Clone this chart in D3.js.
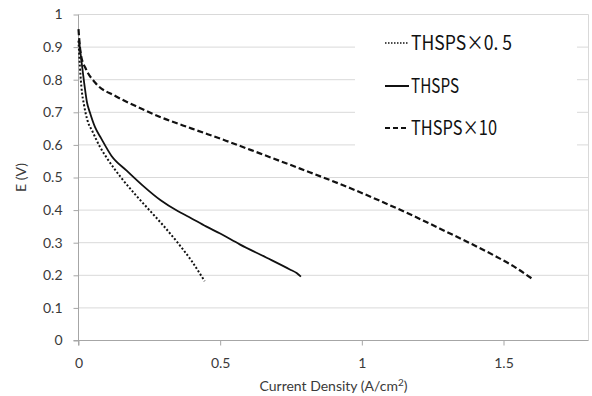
<!DOCTYPE html>
<html>
<head>
<meta charset="utf-8">
<script src="https://cdn.jsdelivr.net/npm/d3@7"></script>
<style>
  body { margin: 0; background: #fff; }
  .tick text { font-family: Lato, "Liberation Sans", sans-serif; font-size: 14px; fill: #3a3a3a; }
  .axisLabels { font-family: Lato, "Liberation Sans", sans-serif; font-size: 14px; fill: #3a3a3a; }
  .legendText { font-family: "Noto Sans CJK JP", sans-serif; font-size: 20px; fill: #111; }
</style>
</head>
<body>
<div id="chart"></div>
<script>

// series values: [current density, E]
var halfX = [0, 0.005, 0.01, 0.02, 0.03, 0.05, 0.075, 0.1, 0.15, 0.2, 0.25, 0.3, 0.35, 0.4, 0.445];
var halfY = [0.92, 0.84, 0.78, 0.72, 0.68, 0.64, 0.595, 0.56, 0.5, 0.448, 0.4, 0.352, 0.3, 0.243, 0.182];

var baseX = [0.002, 0.01, 0.02, 0.03, 0.04, 0.058, 0.08, 0.116, 0.17, 0.227, 0.29, 0.35, 0.39, 0.45, 0.5, 0.569, 0.664, 0.746, 0.77, 0.785];
var baseY = [0.92, 0.86, 0.79, 0.73, 0.70, 0.655, 0.62, 0.567, 0.521, 0.475, 0.43, 0.397, 0.379, 0.35, 0.328, 0.295, 0.254, 0.218, 0.207, 0.196];

var tenX = [0, 0.005, 0.01, 0.025, 0.06, 0.13, 0.2, 0.29, 0.4, 0.52, 0.64, 0.78, 0.96, 1.06, 1.18, 1.3, 1.39, 1.475, 1.535, 1.6];
var tenY = [0.955, 0.9, 0.87, 0.835, 0.79, 0.75, 0.72, 0.685, 0.65, 0.613, 0.574, 0.528, 0.467, 0.43, 0.383, 0.333, 0.295, 0.257, 0.228, 0.19];

var seriesNames = ["THSPS\u00d70. 5", "THSPS", "THSPS\u00d710"];
var xTicks = [0, 0.5, 1, 1.5];
var yTicks = [0, 0.1, 0.2, 0.3, 0.4, 0.5, 0.6, 0.7, 0.8, 0.9, 1];

var w = 592;
var h = 396;

var xScale = d3.scaleLinear()
			.domain([0, 1.8])
			.range([78.5, 588.5]);

var yScale = d3.scaleLinear()
			.domain([0, 1])
			.range([340.5, 14.5]);

var svg = d3.select("#chart")
			.append("svg")
			.attr("width", w)
			.attr("height", h);

// gridlines
svg.append("g")
	.selectAll("line")
	.data(yTicks.slice(1))
	.enter()
	.append("line")
		.attr("x1", xScale(0))
		.attr("x2", xScale(1.8))
		.attr("y1", function(d) { return yScale(d); })
		.attr("y2", function(d) { return yScale(d); })
		.style("stroke", "#d9d9d9")
		.style("stroke-width", 1);

// right border of plot area
svg.append("line")
	.attr("x1", xScale(1.8)).attr("x2", xScale(1.8))
	.attr("y1", yScale(1)).attr("y2", yScale(0))
	.style("stroke", "#d9d9d9");

// legend box covers the grid
svg.append("rect")
	.attr("x", 355)
	.attr("y", yScale(1) + 1)
	.attr("width", 222)
	.attr("height", 145)
	.style("fill", "white");

//Define axes
var xAxis = d3.axisBottom()
			.scale(xScale)
			.tickValues(xTicks)
			.tickSize(5)
			.tickFormat(d3.format("~g"));

var yAxis = d3.axisLeft()
			.scale(yScale)
			.tickValues(yTicks)
			.tickSize(5)
			.tickFormat(d3.format("~g"));

svg.append("g")
	.attr("class", "xAxis")
	.attr("transform", "translate(0," + yScale(0) + ")")
	.call(xAxis)
	.call(function(g) {
		g.select(".domain").attr("d", "M" + (xScale(0) - 5) + ",0H" + xScale(1.8)).style("stroke", "#a6a6a6");
		g.selectAll(".tick line").style("stroke", "#a6a6a6");
		g.selectAll(".tick text").attr("dy", "1em").attr("y", 13);
	});

svg.append("g")
	.attr("class", "yAxis")
	.attr("transform", "translate(" + xScale(0) + ",0)")
	.call(yAxis)
	.call(function(g) {
		g.select(".domain").attr("d", "M0," + yScale(1) + "V" + (yScale(0) + 5)).style("stroke", "#a6a6a6");
		g.selectAll(".tick line").style("stroke", "#a6a6a6");
		g.selectAll(".tick text").attr("x", -16);
	});

// Axis labels
svg.append("text")
	.attr("class", "axisLabels")
	.attr("text-anchor", "middle")
	.attr("x", (xScale(0) + xScale(1.8)) / 2)
	.attr("y", 391)
	.html("Current Density (A/cm<tspan dy='-5' font-size='10px'>2</tspan><tspan dy='5'>)</tspan>");

svg.append("text")
	.attr("class", "axisLabels")
	.attr("text-anchor", "middle")
	.attr("transform", "rotate(-90)")
	.attr("x", -(yScale(0) + yScale(1)) / 2)
	.attr("y", 26)
	.text("E (V)");

// curves
var line = d3.line()
	.x(function(d) { return xScale(d[0]); })
	.y(function(d) { return yScale(d[1]); })
	.curve(d3.curveMonotoneX);

var curves = [
	{ xs: halfX, ys: halfY, dash: "2,2", width: 2 },
	{ xs: baseX, ys: baseY, dash: null, width: 1.8 },
	{ xs: tenX, ys: tenY, dash: "6,3", width: 2.2 }
];

curves.forEach(function(c) {
	var pts = c.xs.map(function(x, i) { return [x, c.ys[i]]; });
	svg.append("path")
		.datum(pts)
		.attr("d", line)
		.style("fill", "none")
		.style("stroke", "#111")
		.style("stroke-width", c.width)
		.style("stroke-dasharray", c.dash);
});

// legend
var legendY = [43, 86, 128];
var legendW = [101, 48, 86];

var legend = svg.append("g")
	.selectAll("g")
	.data(curves)
	.enter()
	.append("g")
		.attr("transform", function(d, i) { return "translate(385," + legendY[i] + ")"; });

legend.append("line")
	.attr("x1", 0)
	.attr("x2", 24)
	.style("stroke", "#111")
	.style("stroke-width", function(d) { return d.width === 2 ? 1.5 : 2; })
	.style("stroke-dasharray", function(d, i) { return i === 0 ? "1.5,1.5" : (i === 2 ? "5,3" : null); });

legend.append("text")
	.attr("class", "legendText")
	.attr("x", 26)
	.attr("y", 7)
	.attr("textLength", function(d, i) { return legendW[i]; })
	.attr("lengthAdjust", "spacingAndGlyphs")
	.text(function(d, i) { return seriesNames[i]; });

</script>
</body>
</html>
